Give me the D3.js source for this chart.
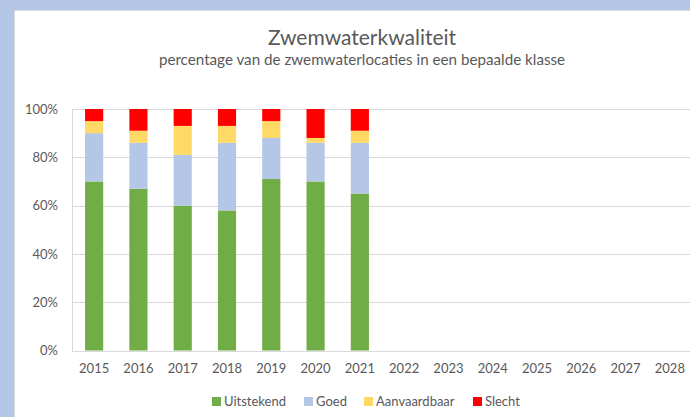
<!DOCTYPE html>
<html><head><meta charset="utf-8">
<script src="https://cdn.jsdelivr.net/npm/d3@7"></script>
<style>
html,body{margin:0;padding:0;background:#b4c7e7;overflow:hidden;}
svg{display:block;}
text{font-family:Lato,"Open Sans",sans-serif;fill:#595959;}
</style></head>
<body>
<svg id="c" width="690" height="417"></svg>
<script>
const years = ["2015","2016","2017","2018","2019","2020","2021","2022","2023","2024","2025","2026","2027","2028"];
const dataYears = ["2015","2016","2017","2018","2019","2020","2021"];
const uitstekend = [70,67,60,58,71,70,65];
const goed = [20,19,21,28,17,16,21];
const aanvaardbaar = [5,5,12,7,7,2,5];
const slecht = [5,9,7,7,5,12,9];
const seriesNames = ["Uitstekend","Goed","Aanvaardbaar","Slecht"];
const seriesColors = ["#70ad47","#b4c7e7","#ffd966","#ff0000"];
const yTicks = [0,20,40,60,80,100];
const title = "Zwemwaterkwaliteit";
const subtitle = "percentage van de zwemwaterlocaties in een bepaalde klasse";

const svg = d3.select("#c");
// chart area
svg.append("rect").attr("x",14.5).attr("y",10.5).attr("width",700).attr("height",420)
  .attr("fill","#fff").attr("stroke","#d9d9d9").attr("stroke-width",1);

const x = d3.scaleBand().domain(years).range([72,692]).paddingInner(0.59).paddingOuter(0.295);
const y = d3.scaleLinear().domain([0,100]).range([350.5,109]);

// gridlines
svg.append("g").selectAll("line").data(yTicks).join("line")
  .attr("x1",72).attr("x2",692).attr("y1",d=>Math.round(y(d))+0.5).attr("y2",d=>Math.round(y(d))+0.5)
  .attr("stroke","#d9d9d9").attr("stroke-width",1);
svg.append("line").attr("x1",72.5).attr("x2",72.5).attr("y1",Math.round(y(100))).attr("y2",Math.round(y(0))+1)
  .attr("stroke","#d9d9d9");

// stacked data
const table = dataYears.map((yr,i)=>({year:yr, Uitstekend:uitstekend[i], Goed:goed[i], Aanvaardbaar:aanvaardbaar[i], Slecht:slecht[i]}));
const stack = d3.stack().keys(seriesNames)(table);
svg.append("g").selectAll("g").data(stack).join("g")
  .attr("fill",(d,i)=>seriesColors[i])
  .selectAll("rect").data(d=>d).join("rect")
  .attr("x",d=>x(d.data.year)).attr("width",x.bandwidth())
  .attr("y",d=>y(d[1])).attr("height",d=>y(d[0])-y(d[1]));

// y axis labels
const yAxis = d3.axisLeft(y).tickValues(yTicks).tickFormat(d=>d+"%").tickSize(0).tickPadding(0);
const ya = svg.append("g").attr("transform","translate(58,0)").call(yAxis);
ya.select(".domain").remove();
ya.selectAll("text").attr("font-size","13px").attr("fill","#595959").attr("font-family","Lato");

// x axis labels
const xAxis = d3.axisBottom(x).tickSize(0).tickPadding(0);
const xa = svg.append("g").attr("transform","translate(0,364)").call(xAxis);
xa.select(".domain").remove();
xa.selectAll("text").attr("font-size","13px").attr("fill","#595959").attr("font-family","Lato");

// titles
svg.append("text").attr("x",362).attr("y",45).attr("text-anchor","middle")
  .attr("font-size","21px").text(title);
svg.append("text").attr("x",362).attr("y",65).attr("text-anchor","middle")
  .attr("font-size","15.2px").text(subtitle);

// legend
const legendX = [212,304,364,473];
const lg = svg.append("g").selectAll("g").data(seriesNames).join("g")
  .attr("transform",(d,i)=>`translate(${legendX[i]},397)`);
lg.append("rect").attr("width",9).attr("height",9).attr("fill",(d,i)=>seriesColors[i]);
lg.append("text").attr("x",12).attr("y",9).attr("font-size","13px").text(d=>d);
</script>
</body></html>
